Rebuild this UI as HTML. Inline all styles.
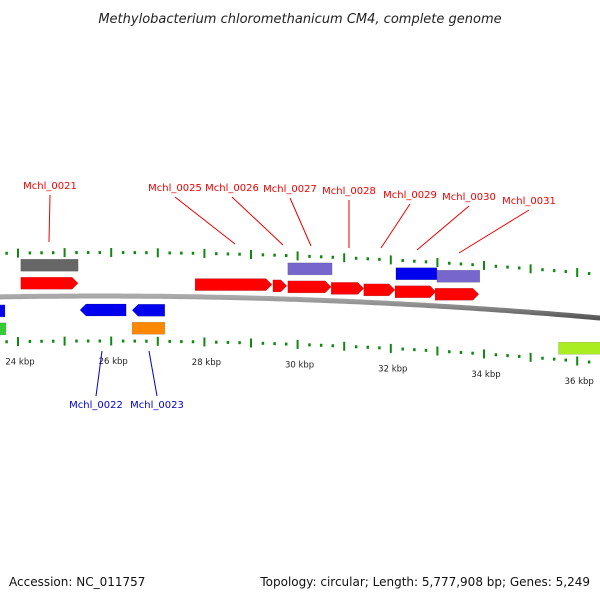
<!DOCTYPE html>
<html><head><meta charset="utf-8"><style>
body{margin:0;background:#fff;width:600px;height:600px;overflow:hidden}
svg{display:block;font-family:"DejaVu Sans","Liberation Sans",sans-serif}
</style></head><body>
<svg id="c" width="600" height="600" viewBox="0 0 600 600">
<defs>
<linearGradient id="gb" x1="0" y1="0" x2="0" y2="1"><stop offset="0" stop-color="#aaa"/><stop offset="0.5" stop-color="#888"/><stop offset="1" stop-color="#555"/></linearGradient>
</defs>
<text x="300" y="23" text-anchor="middle" font-size="13" font-style="italic" fill="#222">Methylobacterium chloromethanicum CM4, complete genome</text>
<text x="9" y="586" font-size="12" fill="#111">Accession: NC_011757</text>
<text x="590" y="586" text-anchor="end" font-size="12" fill="#111">Topology: circular; Length: 5,777,908 bp; Genes: 5,249</text>
<g id="g"></g>
</svg>
<script>
// data
const tickKb=[23,23.25,23.5,23.75,24,24.25,24.5,24.75,25,25.25,25.5,25.75,26,26.25,26.5,26.75,27,27.25,27.5,27.75,28,28.25,28.5,28.75,29,29.25,29.5,29.75,30,30.25,30.5,30.75,31,31.25,31.5,31.75,32,32.25,32.5,32.75,33,33.25,33.5,33.75,34,34.25,34.5,34.75,35,35.25,35.5,35.75,36,36.25];
const tickLabels=["24 kbp","26 kbp","28 kbp","30 kbp","32 kbp","34 kbp","36 kbp"];
const tickLabelKb=[24,26,28,30,32,34,36];
const geneStart=[24.06,27.80,29.47,29.79,30.72,31.42,32.09,32.95,24.06,29.79,32.11,32.99,23.55,25.33,26.45,23.55,26.45,35.6];
const geneEnd=[25.29,29.45,29.77,30.72,31.42,32.09,32.97,33.89,25.29,30.74,32.99,33.91,23.72,26.32,27.15,23.74,27.15,36.5];
const geneTrack=[1,1,1,1,1,1,1,1,2,2,2,2,-1,-1,-1,-2,-2,-2];
const geneColor=["#f00","#f00","#f00","#f00","#f00","#f00","#f00","#f00","#666","#7766cc","#0000ee","#7766cc","#0000ee","#0000ee","#0000ee","#33cc33","#ff8800","#aaee22"];
const geneArrow=[1,1,1,1,1,1,1,1,0,0,0,0,0,-1,-1,0,0,0];
const labelText=["Mchl_0021","Mchl_0025","Mchl_0026","Mchl_0027","Mchl_0028","Mchl_0029","Mchl_0030","Mchl_0031","Mchl_0022","Mchl_0023"];
const labelXY=[[50,189],[175,191],[232,191],[290,192],[349,194],[410,198],[469,200],[529,204],[96,408],[157,408]];
const labelEnd=[[49,242],[235,244],[283,245],[311,246],[349,248],[381,248],[417,250],[459,253],[102,351],[149,351]];
const labelColor=["#e00","#e00","#e00","#e00","#e00","#e00","#e00","#e00","#00c","#00c"];

const g=document.getElementById('g');
const NS='http://www.w3.org/2000/svg';
const X=kb=>18+(kb-24)*46.6;
const off=x=>0.000088*(x-100)*(x-100);
function mk(t,a){const e=document.createElementNS(NS,t);for(const k in a)e.setAttribute(k,a[k]);g.appendChild(e);return e;}
// backbone
let d='';for(let x=-5;x<=605;x+=5){d+=(x<0?'M':'L')+x+','+(296+off(x)).toFixed(1);}
let bb=mk('path',{d:d,stroke:'url(#gb)','stroke-width':5,fill:'none'});


// ticks
tickKb.forEach(kb=>{const x=X(kb);const major=Math.abs(kb-Math.round(kb))<0.01;
 [252.5,341].forEach(b=>{const y=b+off(x);
  const t=mk('rect',{x:x-1,y:major?y-4.5:y-1.5,width:major?2:2.5,height:major?9:3,fill:'#118811'});
  
  });});
tickLabelKb.forEach((kb,i)=>{const x=X(kb);
 const t=mk('text',{x:x+2,y:364+off(x),'text-anchor':'middle','font-size':8.5,fill:'#222'});t.textContent=tickLabels[i];
 
 });
// genes
const trackY={1:-13,2:-31,'-1':14,'-2':32};
geneStart.forEach((s,i)=>{const x1=X(s),x2=X(geneEnd[i]);const xm=(x1+x2)/2;const c=296+off(xm)+trackY[geneTrack[i]];
 const h=12,tp=c-h/2,bt=c+h/2;let p;
 if(geneArrow[i]==1)p=`M${x1},${tp}L${x2-6},${tp}L${x2},${c}L${x2-6},${bt}L${x1},${bt}Z`;
 else if(geneArrow[i]==-1)p=`M${x2},${tp}L${x1+6},${tp}L${x1},${c}L${x1+6},${bt}L${x2},${bt}Z`;
 else p=`M${x1},${tp}L${x2},${tp}L${x2},${bt}L${x1},${bt}Z`;
 const e=mk('path',{d:p,fill:geneColor[i],stroke:'rgba(0,0,0,0.25)','stroke-width':0.5});
 
 });
// labels
labelText.forEach((s,i)=>{const [lx,ly]=labelXY[i],[ex,ey]=labelEnd[i];const top=ly<300;
 const l=mk('line',{x1:lx,y1:top?ly+6:ly-12,x2:ex,y2:ey,stroke:labelColor[i],'stroke-width':1});
 
 
 const t=mk('text',{x:lx,y:ly,'text-anchor':'middle','font-size':10,fill:labelColor[i]});t.textContent=s;
 
 });
</script>
</body></html>
